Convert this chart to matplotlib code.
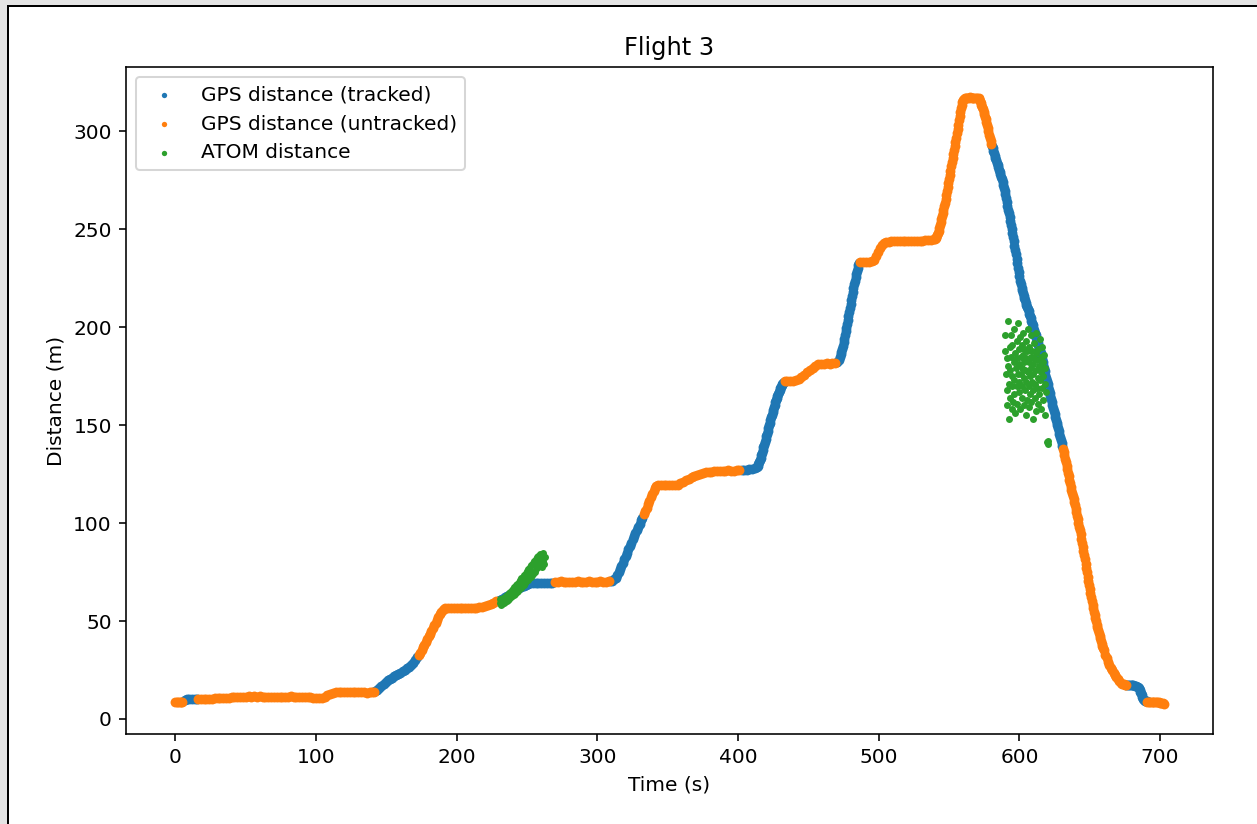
import numpy as np
import matplotlib
matplotlib.use("Agg")
import matplotlib.pyplot as plt
from matplotlib.patches import Rectangle

# GPS distance from the pilot (time s, distance m)
gps_points = [
    (0, 8.6), (1, 8.7), (2, 8.6), (3, 8.8), (4, 8.7), (5, 8.9),
    (7, 9.8), (8, 10.1), (10, 10.2), (12, 10.2), (14, 10.3), (15, 10.3),
    (16, 10.2), (18, 10.2), (20, 10.3), (22, 10.3), (24, 10.4), (26, 10.4), (28, 10.5), (30, 10.5),
    (32, 10.6), (34, 10.8), (36, 10.9), (38, 10.9), (40, 11.0), (42, 11.0), (44, 11.1), (46, 11.3),
    (48, 11.2), (50, 11.4), (52, 11.5), (54, 11.3), (56, 11.6), (58, 11.4), (60, 11.5), (62, 11.3),
    (64, 11.2), (66, 11.1), (68, 11.0), (70, 11.0), (72, 11.1), (74, 11.3), (76, 11.3), (78, 11.2),
    (80, 11.4), (82, 11.5), (84, 11.3), (86, 11.2), (88, 11.4), (90, 11.2), (92, 11.0), (94, 11.3),
    (96, 11.1), (98, 10.9), (100, 10.8), (102, 10.6), (104, 10.8), (106, 11.2), (108, 12.0), (110, 12.8),
    (112, 13.4), (114, 13.7), (116, 13.8), (118, 13.8), (120, 13.7), (122, 13.8), (124, 13.9), (126, 13.8),
    (128, 13.7), (130, 13.6), (132, 13.7), (134, 13.6), (136, 13.5), (138, 13.7), (140, 13.8), (141.5, 13.9),
    (142, 14.2), (143.5, 15.0), (145, 16.0), (146.5, 17.0), (148, 18.0), (149.5, 18.9), (151, 19.7),
    (152.5, 20.4), (154, 21.0), (155.5, 21.7), (157, 22.4), (158.5, 23.0), (160, 23.6), (161.5, 24.3),
    (163, 25.0), (164.5, 25.8), (166, 26.6), (167.5, 27.6), (169, 28.8), (170.5, 30.2), (172, 31.6),
    (173, 32.5), (174, 33.8), (175, 35.2), (176, 36.6), (177, 38.0), (178, 39.4), (179, 40.8), (180, 42.2),
    (181, 43.6), (182, 45.0), (183, 46.4), (184, 47.8), (185, 49.2), (186, 50.6), (187, 52.0), (188, 53.4),
    (189, 54.7), (190, 55.7), (191, 56.3), (192, 56.5),
    (194, 56.6), (196, 56.6), (198, 56.5), (200, 56.6), (202, 56.6), (204, 56.5), (206, 56.6), (208, 56.5),
    (210, 56.6), (212, 56.7), (214, 56.8), (216, 57.0), (218, 57.3), (220, 57.7), (222, 58.2), (224, 58.8),
    (226, 59.4), (228, 60.0),
    (229.5, 60.3), (231, 60.8), (232.5, 61.4), (234, 62.0), (235.5, 62.6), (237, 63.3), (238.5, 64.0),
    (240, 64.7), (241.5, 65.4), (243, 66.1), (244.5, 66.8), (246, 67.4), (247.5, 68.0), (249, 68.5),
    (250.5, 69.0), (252, 69.3), (254, 69.5), (256, 69.6), (258, 69.6), (260, 69.5), (262, 69.6),
    (264, 69.5), (266, 69.6), (268, 69.6),
    (270, 69.8), (272, 70.0), (274, 70.2), (276, 70.1), (278, 69.9), (280, 69.7), (282, 69.8), (284, 70.0),
    (286, 70.2), (288, 70.1), (290, 69.9), (292, 70.0), (294, 70.2), (296, 70.1), (298, 69.9), (300, 70.0),
    (302, 70.2), (304, 70.1), (306, 70.0), (308, 70.2),
    (309, 70.4), (310.5, 70.6), (312, 71.2), (313, 72.2), (314, 73.3), (315, 74.8), (316, 76.4), (317, 78.1),
    (318, 79.8), (319, 81.5), (320, 83.2), (321, 84.9), (322, 86.6), (323, 88.3), (324, 90.0), (325, 91.7),
    (326, 93.3), (327, 94.9), (328, 96.5), (329, 98.1), (330, 99.7), (331, 101.3), (332, 102.8),
    (333, 104.5), (334, 106.3), (335, 107.8), (336, 109.6), (337, 111.4), (338, 113.2), (339, 115.0),
    (340, 116.6), (341, 118.0), (342, 118.8), (343, 119.2),
    (345, 119.3), (347, 119.3), (349, 119.2), (351, 119.3), (353, 119.4), (355, 119.4), (357, 119.6),
    (359, 120.3), (361, 121.1), (363, 121.9), (365, 122.6), (367, 123.3), (369, 123.9), (371, 124.5),
    (373, 125.0), (375, 125.4), (377, 125.8), (379, 126.1), (381, 126.3), (383, 126.5), (385, 126.6),
    (387, 126.7), (389, 126.6), (391, 126.8), (393, 126.9), (395, 126.8), (397, 126.7), (399, 126.9),
    (401, 127.0),
    (402.5, 127.2), (404, 127.3), (406, 127.3), (408, 127.4), (410, 127.6), (412, 128.0), (413.5, 128.8),
    (414, 129.2), (414.5, 130.0), (415, 131.0), (415.5, 132.0), (416, 133.2), (416.5, 134.5), (417, 135.8),
    (417.5, 137.2), (418, 138.6), (418.5, 140.0), (419, 141.4), (419.5, 142.8), (420, 144.2), (420.5, 145.6),
    (421, 147.0), (421.5, 148.4), (422, 149.8), (422.5, 151.2), (423, 152.6), (423.5, 154.0), (424, 155.3),
    (424.5, 156.6), (425, 157.9), (425.5, 159.2), (426, 160.4), (426.5, 161.6), (427, 162.8), (427.5, 163.9),
    (428, 165.0), (428.5, 166.0), (429, 167.0), (429.5, 167.9), (430, 168.8), (430.5, 169.6), (431, 170.3),
    (431.5, 171.0), (432, 171.6), (432.5, 172.0),
    (433.5, 172.4), (435, 172.5), (437, 172.5), (439, 172.6), (441, 172.8), (443, 173.3), (445, 174.5),
    (447, 175.8), (449, 177.0), (451, 178.2), (453, 179.3), (455, 180.3), (457, 181.0), (459, 181.3),
    (461, 181.4), (463, 181.5), (465, 181.4), (467, 181.5), (469, 181.6),
    (470.5, 182.0), (471.5, 183.2), (472.5, 185.0), (473, 186.2), (473.5, 187.5), (474, 189.0), (474.5, 190.5),
    (475, 192.2), (475.5, 194.0), (476, 195.9), (476.5, 197.8), (477, 199.8), (477.5, 201.8), (478, 203.8),
    (478.5, 205.8), (479, 207.8), (479.5, 209.8), (480, 211.8), (480.5, 213.8), (481, 215.8), (481.5, 217.8),
    (482, 219.8), (482.5, 221.8), (483, 223.7), (483.5, 225.5), (484, 227.2), (484.5, 228.8), (485, 230.3),
    (485.5, 231.6), (486, 232.6),
    (487, 233.2), (489, 233.3), (491, 233.3), (493, 233.4), (495, 233.6), (496.5, 234.5), (498, 236.5),
    (499.5, 238.6), (501, 240.5), (502.5, 242.0), (504, 243.0), (505.5, 243.4), (507, 243.6), (509, 243.8),
    (511, 243.9), (513, 244.0), (515, 244.0), (517, 244.0), (519, 244.1), (521, 244.1), (523, 244.1),
    (525, 244.2), (527, 244.2), (529, 244.2), (531, 244.2), (533, 244.3), (535, 244.4), (537, 244.5),
    (539, 244.8),
    (540, 245.0), (540.5, 245.5), (541, 246.2), (541.5, 247.1), (542, 248.1), (542.5, 249.3), (543, 250.6),
    (543.5, 252.0), (544, 253.5), (544.5, 255.0), (545, 256.6), (545.5, 258.3), (546, 260.0), (546.5, 261.8),
    (547, 263.6), (547.5, 265.5), (548, 267.5), (548.5, 269.5), (549, 271.5), (549.5, 273.6), (550, 275.7),
    (550.5, 277.8), (551, 279.9), (551.5, 282.0), (552, 284.1), (552.5, 286.2), (553, 288.3), (553.5, 290.4),
    (554, 292.5), (554.5, 294.6), (555, 296.7), (555.5, 298.9), (556, 301.1), (556.5, 303.3), (557, 305.5),
    (557.5, 307.7), (558, 309.8), (558.5, 311.7), (559, 313.4), (559.5, 314.8), (560, 315.8), (560.5, 316.5),
    (561, 316.9), (562, 317.1), (563, 317.0), (564, 317.2), (565, 317.3), (566, 317.1), (567, 317.0),
    (568, 317.2), (569, 317.1), (570, 316.9), (571, 316.8), (571.5, 316.3), (572, 315.6), (572.5, 314.6),
    (573, 313.5), (573.5, 312.3), (574, 311.1), (574.5, 309.9), (575, 308.7), (575.5, 307.4), (576, 306.0),
    (576.5, 304.5), (577, 303.0), (577.5, 301.5), (578, 299.9), (578.5, 298.3), (579, 296.7), (579.5, 295.1),
    (580, 293.5),
    (580.5, 292.6), (581, 291.3), (581.5, 290.0), (582, 288.8), (582.5, 287.6), (583, 286.4), (583.5, 285.2),
    (584, 284.0), (584.5, 282.8), (585, 281.6), (585.5, 280.4), (586, 279.2), (586.5, 278.0), (587, 276.8),
    (587.5, 275.6), (588, 274.3), (588.5, 272.8), (589, 271.2), (589.5, 269.5), (590, 267.7), (590.5, 265.8),
    (591, 263.9), (591.5, 262.0), (592, 260.0), (592.5, 258.0), (593, 256.0), (593.5, 254.0), (594, 252.0),
    (594.5, 250.0), (595, 248.0), (595.5, 245.9), (596, 243.8), (596.5, 241.6), (597, 239.4), (597.5, 237.2),
    (598, 235.0), (598.5, 232.7), (599, 230.4), (599.5, 228.1), (600, 225.9), (600.5, 223.8), (601, 221.9),
    (601.5, 220.2), (602, 218.7), (602.5, 217.3), (603, 216.0), (603.5, 214.8), (604, 213.6), (604.5, 212.4),
    (605, 211.3), (605.5, 210.2), (606, 209.1), (606.5, 208.0), (607, 206.9), (607.5, 205.7), (608, 204.5),
    (608.5, 203.3), (609, 202.1), (609.5, 200.9), (610, 199.7), (610.5, 198.5), (611, 197.2), (611.5, 195.9),
    (612, 194.6), (612.5, 193.3), (613, 192.0), (613.5, 190.7), (614, 189.4), (614.5, 188.0), (615, 186.6),
    (615.5, 185.2), (616, 183.7), (616.5, 182.2), (617, 180.6), (617.5, 179.0), (618, 177.4), (618.5, 175.8),
    (619, 174.2), (619.5, 172.6), (620, 171.0), (620.5, 169.4), (621, 167.8), (621.5, 166.3), (622, 164.8),
    (622.5, 163.3), (623, 161.8), (623.5, 160.3), (624, 158.8), (624.5, 157.3), (625, 155.8), (625.5, 154.3),
    (626, 152.8), (626.5, 151.3), (627, 149.8), (627.5, 148.3), (628, 146.8), (628.5, 145.3), (629, 143.8),
    (629.5, 142.3), (630, 140.8), (630.5, 139.3),
    (631, 137.8), (631.5, 136.2), (632, 134.5), (632.5, 132.8), (633, 131.0), (633.5, 129.2), (634, 127.4),
    (634.5, 125.6), (635, 123.8), (635.5, 122.0), (636, 120.3), (636.5, 118.6), (637, 117.0), (637.5, 115.4),
    (638, 113.8), (638.5, 112.2), (639, 110.6), (639.5, 109.0), (640, 107.3), (640.5, 105.6), (641, 103.8),
    (641.5, 102.0), (642, 100.1), (642.5, 98.2), (643, 96.2), (643.5, 94.2), (644, 92.1), (644.5, 90.0),
    (645, 87.9), (645.5, 85.8), (646, 83.6), (646.5, 81.4), (647, 79.2), (647.5, 77.0), (648, 74.8),
    (648.5, 72.6), (649, 70.4), (649.5, 68.3), (650, 66.2), (650.5, 64.2), (651, 62.2), (651.5, 60.3),
    (652, 58.4), (652.5, 56.6), (653, 54.8), (653.5, 53.1), (654, 51.4), (654.5, 49.8), (655, 48.2),
    (655.5, 46.7), (656, 45.2), (656.5, 43.8), (657, 42.4), (657.5, 41.1), (658, 39.8), (658.5, 38.5),
    (659, 37.3), (659.5, 36.1), (660, 35.0), (661, 32.9), (662, 31.0), (663, 29.3), (664, 27.7), (665, 26.2),
    (666, 24.8), (667, 23.5), (668, 22.3), (669, 21.2), (670, 20.2), (671, 19.3), (672, 18.6), (673, 18.0),
    (674, 17.6), (675, 17.4), (675.5, 17.3),
    (676, 17.3), (677, 17.3), (678, 17.4), (679, 17.2), (680, 17.3), (681, 17.2), (682, 17.0), (683, 16.8),
    (684, 16.4), (685, 15.6), (685.5, 14.8), (686, 13.9), (686.5, 13.0), (687, 12.1), (687.5, 11.2),
    (688, 10.4), (688.5, 9.8), (689, 9.4), (690, 9.2), (690.5, 9.1),
    (691, 8.9), (692, 8.8), (693, 8.8), (694, 8.7), (695, 8.8), (696, 8.7), (697, 8.6), (698, 8.7),
    (699, 8.5), (700, 8.4), (701, 8.2), (702, 8.0), (702.5, 7.8),
]

# time windows where the antenna tracker was locked on
tracked_spans = [(6.5, 15.5), (141.8, 172.5), (229, 268.5), (308.5, 332.5),
                 (402, 433), (470, 486.5), (580.2, 630.8), (675.8, 690.8)]

# ATOM range estimates (time s, distance m)
atom_points = [
    (230.5, 59.0), (231, 61.2), (231.5, 58.4), (232, 60.9), (232.5, 58.9), (233, 61.8), (233.5, 59.4),
    (234, 62.3), (234.5, 59.8), (235, 62.9), (235.5, 60.3), (236, 63.5), (236.5, 60.8), (237, 64.2),
    (237.5, 61.4), (238, 64.9), (238.5, 62.0), (239, 65.6), (239.5, 62.6), (240, 66.4), (240.5, 63.2),
    (241, 67.3), (241.5, 63.9), (242, 68.2), (242.5, 64.6), (243, 69.1), (243.5, 65.4), (244, 70.0),
    (244.5, 66.2), (245, 70.9), (245.5, 67.0), (246, 71.8), (246.5, 67.8), (247, 72.7), (247.5, 68.6),
    (248, 73.6), (248.5, 69.4), (249, 74.5), (249.5, 70.2), (250, 75.4), (250.5, 71.0), (251, 76.4),
    (251.5, 71.8), (252, 77.5), (252.5, 72.6), (253, 78.6), (253.5, 73.4), (254, 79.7), (254.5, 74.2),
    (255, 80.8), (255.5, 75.2), (256, 81.8), (256.5, 76.4), (257, 82.6), (257.5, 77.6), (258, 83.4),
    (258.5, 78.6), (259, 84.1), (259.5, 79.5), (260, 82.2), (260.5, 77.8), (261, 84.6), (261.5, 80.8),
    (262, 78.9), (262.5, 82.9), (243.8, 67.6), (248.2, 71.2), (252.3, 75.0), (256.2, 78.9), (259.8, 81.4),
    (589.5, 188), (590, 196), (590.5, 176), (591, 168), (591, 184), (591.5, 160), (592, 203), (592, 180),
    (592.5, 171), (592.5, 153), (593, 190), (593, 164), (593.5, 178), (594, 196), (594, 185), (594.5, 170),
    (594.5, 158), (595, 175), (595, 191), (595.5, 162), (596, 182), (596, 199), (596.5, 173), (596.5, 166),
    (597, 187), (597, 156), (597.5, 179), (598, 193), (598, 170), (598.5, 184), (598.5, 161), (599, 176),
    (599, 202), (599.5, 189), (599.5, 167), (600, 181), (600, 172), (600.5, 195), (600.5, 158), (601, 185),
    (601, 176), (601.5, 164), (601.5, 191), (602, 179), (602, 170), (602.5, 186), (602.5, 197), (603, 174),
    (603, 160), (603.5, 182), (603.5, 189), (604, 168), (604, 178), (604.5, 193), (604.5, 155), (605, 184),
    (605, 172), (605.5, 163), (605.5, 188), (606, 177), (606, 199), (606.5, 170), (606.5, 182), (607, 159),
    (607, 190), (607.5, 175), (607.5, 166), (608, 185), (608, 179), (608.5, 196), (608.5, 162), (609, 172),
    (609, 188), (609.5, 181), (609.5, 153), (610, 168), (610, 176), (610.5, 192), (610.5, 184), (611, 164),
    (611, 171), (611.5, 187), (611.5, 157), (612, 178), (612, 197), (612.5, 169), (612.5, 183), (613, 174),
    (613, 161), (613.5, 189), (614, 180), (614, 166), (614.5, 194), (614.5, 173), (615, 185), (615, 158),
    (615.5, 177), (616, 169), (616, 190), (616.5, 182), (617, 163), (617, 175), (617.5, 186), (618, 171),
    (618, 179), (618.5, 155), (619, 167), (619.5, 141.5), (620, 140.5), (620.5, 142),
]

gps_time, gps_dist = map(np.array, zip(*gps_points))
atom_time, atom_dist = map(np.array, zip(*atom_points))

tracked = np.zeros(len(gps_time), dtype=bool)
for a, b in tracked_spans:
    tracked |= (gps_time >= a) & (gps_time <= b)

# the reference was drawn at a bigger scale, so use a high dpi on a 1257x824 canvas
W, H = 1257, 824
DPI = 145
fig = plt.figure(figsize=(W / DPI, H / DPI), dpi=DPI)

# screenshot border (grey margin + black edge on top/left)
fig.add_artist(Rectangle((0, 1 - 4.5 / H), 1, 4.5 / H, transform=fig.transFigure,
                         facecolor="#e4e4e4", edgecolor="none"))
fig.add_artist(Rectangle((0, 0), 6.5 / W, 1, transform=fig.transFigure,
                         facecolor="#e4e4e4", edgecolor="none"))
fig.add_artist(Rectangle((6.5 / W, 1 - 6.5 / H), 1, 2 / H, transform=fig.transFigure,
                         facecolor="black", edgecolor="none"))
fig.add_artist(Rectangle((6.5 / W, 0), 2 / W, 1 - 4.5 / H, transform=fig.transFigure,
                         facecolor="black", edgecolor="none"))

ax = fig.add_axes([126 / W, 90 / H, 1087 / W, 667 / H])

ax.scatter(gps_time[tracked], gps_dist[tracked], s=24, linewidths=0,
           color="tab:blue", label="GPS distance (tracked)")
ax.scatter(gps_time[~tracked], gps_dist[~tracked], s=24, linewidths=0,
           color="tab:orange", label="GPS distance (untracked)")
ax.scatter(atom_time, atom_dist, s=12, linewidths=0,
           color="tab:green", label="ATOM distance")

ax.set_title("Flight 3")
ax.set_xlabel("Time (s)")
ax.set_ylabel("Distance (m)")
leg = ax.legend(loc="upper left")
for h in leg.legend_handles:
    h.set_sizes([7])

fig.savefig("out.png", dpi=DPI)
